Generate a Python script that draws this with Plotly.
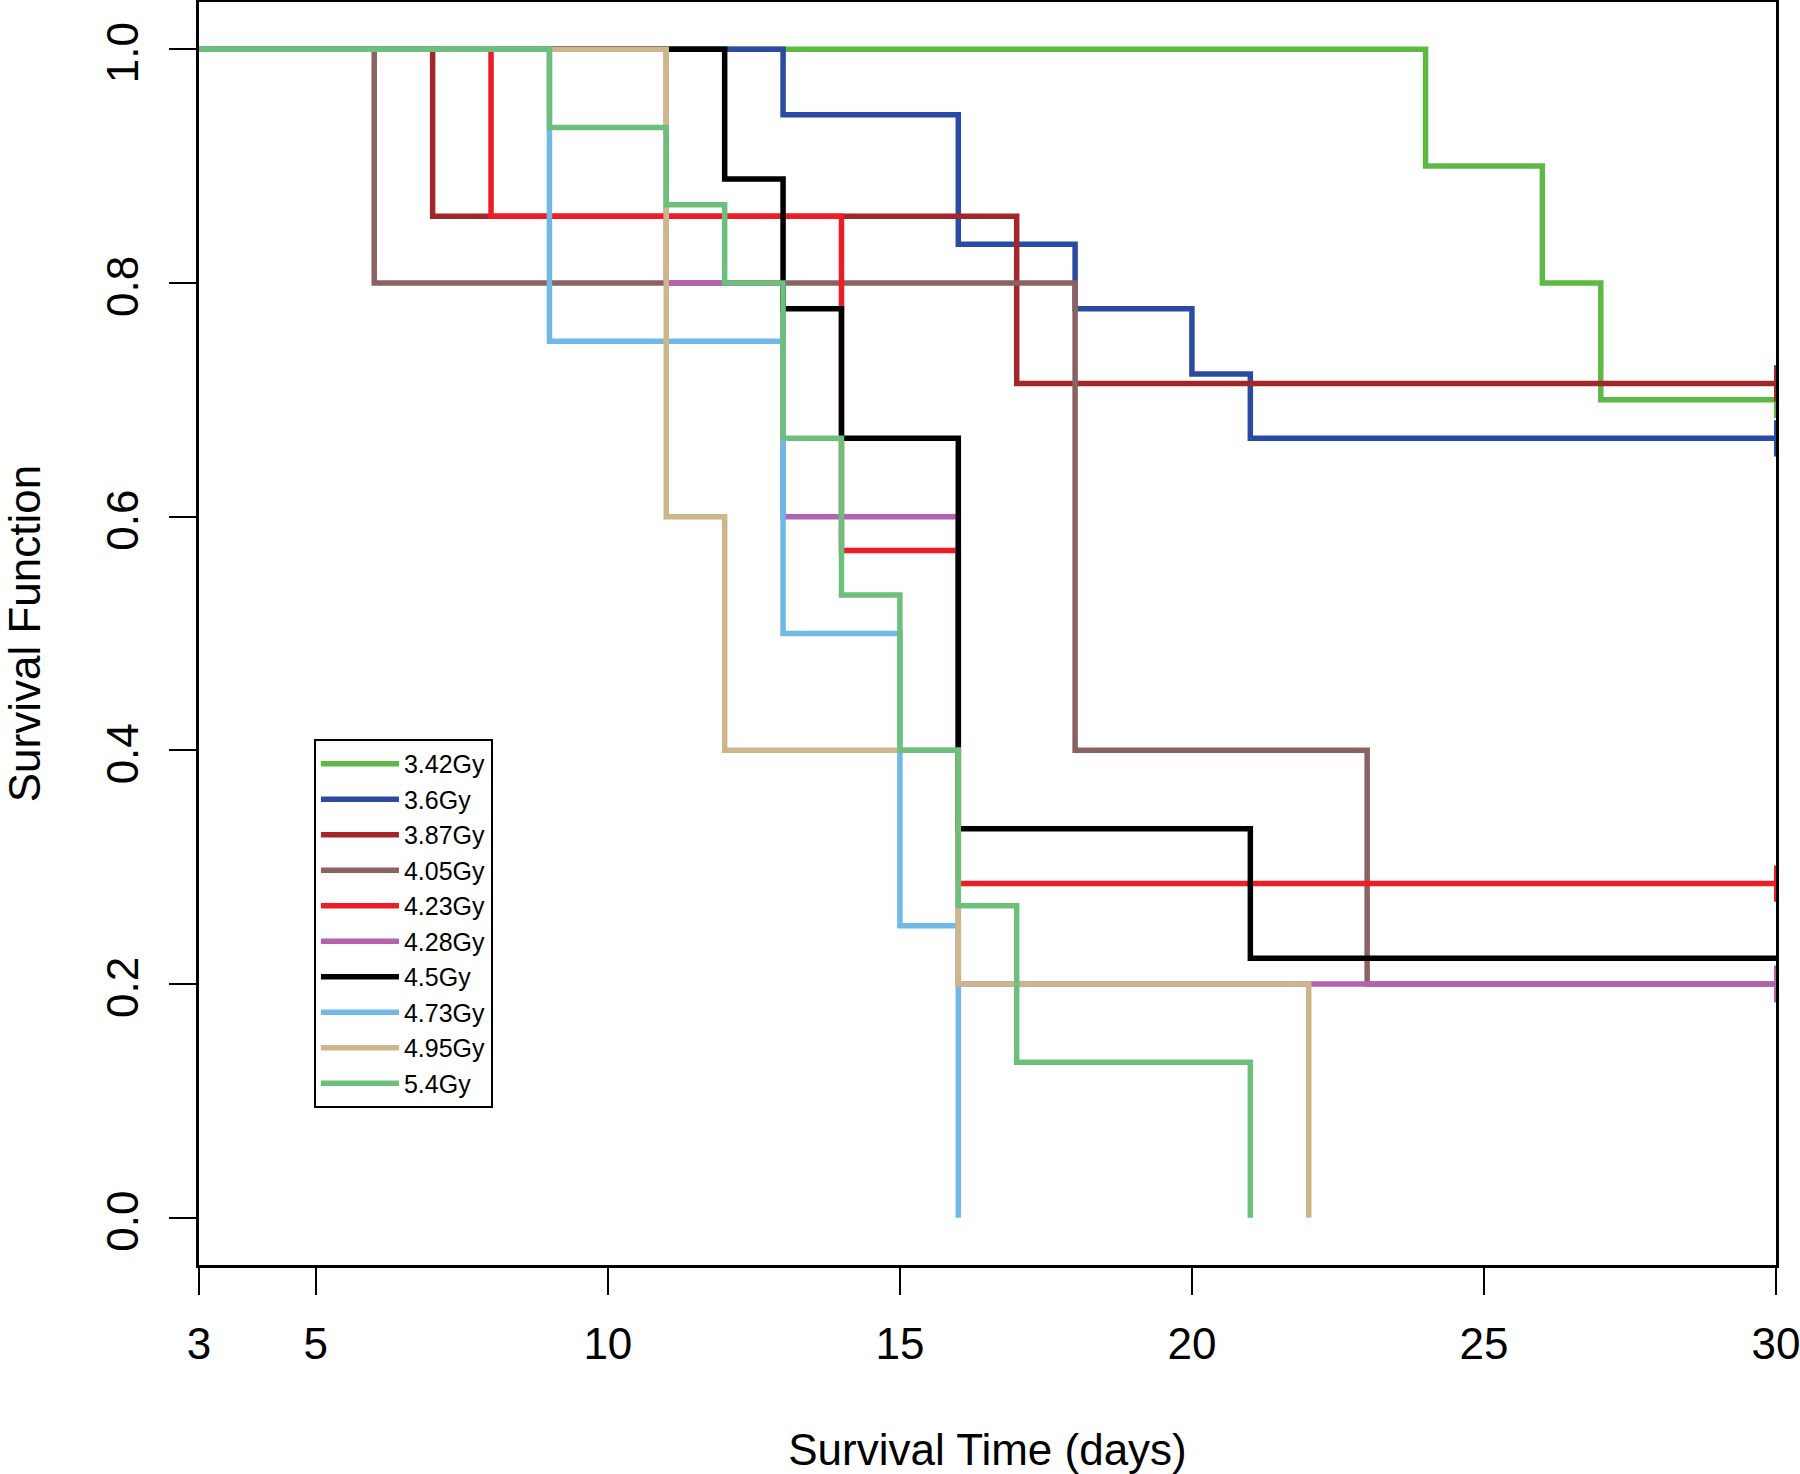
import plotly.graph_objects as go

# ---- data ----
doses = ["3.42Gy", "3.6Gy", "3.87Gy", "4.05Gy", "4.23Gy",
         "4.28Gy", "4.5Gy", "4.73Gy", "4.95Gy", "5.4Gy"]

time_342 = [3, 24, 26, 27, 30]
surv_342 = [1.0, 0.9, 0.8, 0.7, 0.7]

time_36 = [3, 13, 16, 18, 20, 21, 30]
surv_36 = [1.0, 0.944, 0.833, 0.778, 0.722, 0.667, 0.667]

time_387 = [3, 7, 17, 30]
surv_387 = [1.0, 0.857, 0.714, 0.714]

time_405 = [3, 6, 18, 23, 30]
surv_405 = [1.0, 0.8, 0.4, 0.2, 0.2]

time_423 = [3, 8, 14, 16, 30]
surv_423 = [1.0, 0.857, 0.571, 0.286, 0.286]

time_428 = [3, 11, 13, 16, 30]
surv_428 = [1.0, 0.8, 0.6, 0.2, 0.2]

time_45 = [3, 12, 13, 14, 16, 21, 30]
surv_45 = [1.0, 0.889, 0.778, 0.667, 0.333, 0.222, 0.222]

time_473 = [3, 9, 13, 15, 16]
surv_473 = [1.0, 0.75, 0.5, 0.25, 0.0]

time_495 = [3, 11, 12, 16, 22]
surv_495 = [1.0, 0.6, 0.4, 0.2, 0.0]

time_54 = [3, 9, 11, 12, 13, 14, 15, 16, 17, 21]
surv_54 = [1.0, 0.933, 0.867, 0.8, 0.667, 0.533, 0.4, 0.267, 0.133, 0.0]

censored_doses = ["3.42Gy", "3.6Gy", "3.87Gy", "4.05Gy", "4.23Gy", "4.28Gy"]
censor_time = 30

x_ticks = [3, 5, 10, 15, 20, 25, 30]
y_ticks = [0.0, 0.2, 0.4, 0.6, 0.8, 1.0]

series = {
    "3.42Gy": (time_342, surv_342),
    "3.6Gy": (time_36, surv_36),
    "3.87Gy": (time_387, surv_387),
    "4.05Gy": (time_405, surv_405),
    "4.23Gy": (time_423, surv_423),
    "4.28Gy": (time_428, surv_428),
    "4.5Gy": (time_45, surv_45),
    "4.73Gy": (time_473, surv_473),
    "4.95Gy": (time_495, surv_495),
    "5.4Gy": (time_54, surv_54),
}

colors = {
    "3.42Gy": "#5BB944",
    "3.6Gy": "#2B4BA2",
    "3.87Gy": "#A3262B",
    "4.05Gy": "#8A6262",
    "4.23Gy": "#EE1C24",
    "4.28Gy": "#B462AE",
    "4.5Gy": "#000000",
    "4.73Gy": "#70B8E6",
    "4.95Gy": "#CDB68C",
    "5.4Gy": "#6CC07C",
}

FONT = "Liberation Sans, Arial, sans-serif"

fig = go.Figure()
for d in doses:
    t, s = series[d]
    fig.add_trace(go.Scatter(
        x=t, y=s, mode="lines", name=d, legendgroup=d,
        line=dict(color=colors[d], width=5.5, shape="hv"),
        cliponaxis=True,
    ))
for d in doses:
    if d in censored_doses:
        t, s = series[d]
        fig.add_trace(go.Scatter(
            x=[censor_time], y=[s[-1]], mode="markers", legendgroup=d,
            showlegend=False, cliponaxis=True,
            marker=dict(symbol="line-ns", size=26, color=colors[d],
                        line=dict(color=colors[d], width=4)),
        ))

fig.update_layout(
    width=1800, height=1474,
    margin=dict(l=199, r=24, t=2, b=209, autoexpand=False),
    paper_bgcolor="white", plot_bgcolor="white",
    font=dict(family=FONT, color="black", size=44),
    showlegend=True,
    legend=dict(
        x=0.0729, y=0.4165, xanchor="left", yanchor="top",
        bordercolor="black", borderwidth=2, bgcolor="white",
        font=dict(family=FONT, size=25, color="black"),
        tracegroupgap=0, itemwidth=78,
    ),
)
fig.update_xaxes(
    range=[3, 30], tickvals=x_ticks, ticktext=[str(v) for v in x_ticks],
    showgrid=False, zeroline=False, automargin=False,
    showline=True, mirror=True, linecolor="black", linewidth=3,
    ticks="outside", ticklen=27, tickwidth=2, tickcolor="black",
    tickfont=dict(family=FONT, size=44, color="black"),
    ticklabelstandoff=11, ticklabeloverflow="allow",
    title=dict(text="Survival Time (days)", standoff=70,
               font=dict(family=FONT, size=44, color="black")),
)
fig.update_yaxes(
    range=[-0.0404, 1.0404], tickvals=y_ticks, tickformat=".1f",
    showgrid=False, zeroline=False, automargin=False,
    showline=True, mirror=True, linecolor="black", linewidth=3,
    ticks="outside", ticklen=27, tickwidth=2, tickcolor="black",
    tickangle=-90,
    tickfont=dict(family=FONT, size=44, color="black"),
    ticklabelstandoff=13, ticklabelshift=10, ticklabeloverflow="allow",
    title=dict(text="Survival Function", standoff=81,
               font=dict(family=FONT, size=44, color="black")),
)

fig.write_html(
    "out.html",
    config={"displayModeBar": False},
    post_script="document.body.style.margin='0px';document.body.style.overflow='hidden';",
)
